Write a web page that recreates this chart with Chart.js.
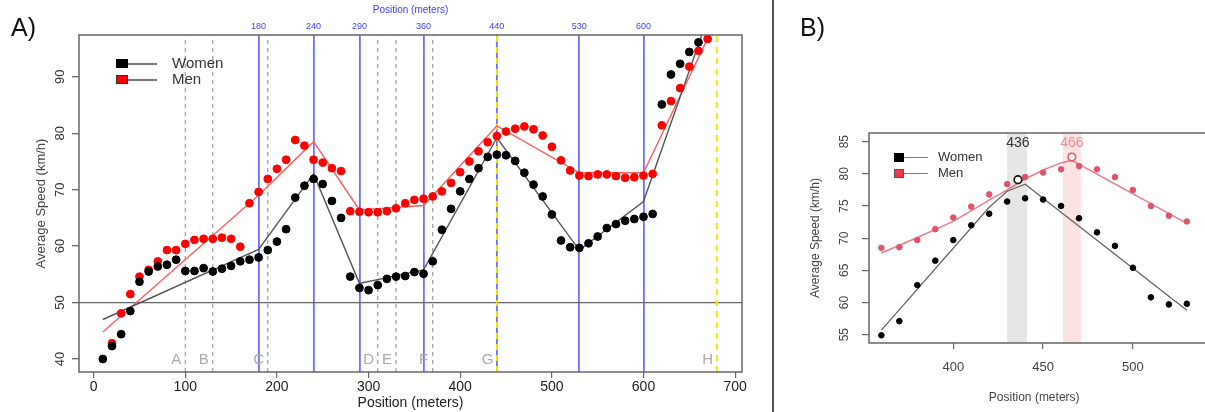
<!DOCTYPE html>
<html>
<head>
<meta charset="utf-8">
<script src="https://cdn.jsdelivr.net/npm/chart.js@4.4.1/dist/chart.umd.min.js"></script>
<style>
  body { margin: 0; background: #fff; width: 1205px; height: 412px; overflow: hidden; position: relative;
         font-family: 'Liberation Sans', Arial, sans-serif; }
  canvas { position: absolute; top: 0; }
  #ca { left: 0; }
  #cb { left: 776px; }
  .abs { position: absolute; }
  .tag { font-size: 25px; line-height: 25px; color: #111; }
  .leg { color: #333; white-space: nowrap; }
</style>
</head>
<body>
<canvas id="ca" width="770" height="412"></canvas>
<canvas id="cb" width="429" height="412"></canvas>
<div class="abs" style="left:772px;top:0;width:2px;height:412px;background:#555"></div>
<div class="abs tag" style="left:11px;top:15px">A)</div>
<div class="abs tag" style="left:800px;top:15px">B)</div>

<!-- legend A -->
<div class="abs" style="left:116px;top:59px;width:12px;height:9px;background:#000"></div>
<div class="abs" style="left:128px;top:63px;width:29px;height:1.5px;background:#777"></div>
<div class="abs leg" style="left:172px;top:55px;font-size:15px;line-height:16px">Women</div>
<div class="abs" style="left:116px;top:75px;width:10px;height:7px;background:#ff0000;border:1px solid #333"></div>
<div class="abs" style="left:128px;top:79px;width:29px;height:1.5px;background:#777"></div>
<div class="abs leg" style="left:172px;top:71px;font-size:15px;line-height:16px">Men</div>

<!-- legend B -->
<div class="abs" style="left:894px;top:153px;width:10px;height:9px;background:#000"></div>
<div class="abs" style="left:904px;top:157px;width:24px;height:1.3px;background:#777"></div>
<div class="abs leg" style="left:938px;top:150px;font-size:13px;line-height:14px">Women</div>
<div class="abs" style="left:894px;top:169px;width:8px;height:7px;background:#f03a4a;border:1px solid #555"></div>
<div class="abs" style="left:904px;top:173px;width:24px;height:1.3px;background:#777"></div>
<div class="abs leg" style="left:938px;top:166px;font-size:13px;line-height:14px">Men</div>

<script>
// ---------- panel A data ----------
const womenAX = [10,20,30,40,50,60,70,80,90,100,110,120,130,140,150,160,170,180,190,200,210,220,230,240,250,260,270,280,290,300,
  310,320,330,340,350,360,370,380,390,400,410,420,430,440,450,460,470,480,490,500,510,520,530,540,550,560,570,580,590,600,
  610,620,630,640,650,660]
const womenAY = [40.0,42.3,44.4,48.5,53.7,55.5,56.4,56.7,57.6,55.6,55.6,56.1,55.5,56.0,56.5,57.3,57.6,58.0,59.3,60.8,63.0,
  68.6,70.7,71.9,71.0,68.0,65.0,54.6,52.6,52.2,53.1,54.2,54.6,54.7,55.4,55.1,57.3,62.9,66.6,69.7,71.9,73.8,75.8,76.2,76.1,
  75.1,73.0,70.9,68.8,65.6,61.0,59.8,59.7,60.5,61.7,63.2,63.9,64.5,64.8,65.2,65.7,85.1,90.4,92.3,94.4,96.1]
const menAX = [20,30,40,50,60,70,80,90,100,110,120,130,140,150,160,170,180,190,200,210,220,230,240,250,260,270,280,290,300,
  310,320,330,340,350,360,370,380,390,400,410,420,430,440,450,460,470,480,490,500,510,520,530,540,550,560,570,580,590,600,
  610,620,630,640,650,660,670]
const menAY = [42.8,48.1,51.5,54.6,55.8,57.3,59.3,59.3,60.4,61.1,61.3,61.3,61.5,61.3,59.9,67.6,69.6,71.9,73.7,75.3,78.8,
  77.8,75.3,74.8,73.8,73.3,66.2,66.1,66.0,66.0,66.2,66.7,67.6,68.2,68.4,68.8,69.7,71.2,73.1,75.0,76.8,78.4,79.5,80.3,80.8,
  81.2,80.7,79.6,77.6,75.2,73.4,72.5,72.4,72.7,72.7,72.4,72.1,72.2,72.5,72.8,81.4,85.7,88.0,91.8,94.6,96.7]
const fitAX = [10,180,240,290,360,440,530,600,680]
const womenFitAY = [47.0,59.4,72.8,53.4,55.8,79.2,59.3,67.9,105.0]
const menFitAY = [44.8,69.0,78.5,66.4,67.2,81.3,73.0,73.0,100.2]
const blueBreaks = [180,240,290,360,440,530,600]
const greyDashed = [100,130,190,310,330,370]
const yellowDashed = [440,680]
const zoneLetters = ['A','B','C','D','E','F','G','H']
const zoneLetterX = [90,120,180,300,320,360,430,670]
const zoneLetterY = 39.9
const xTicksA = [0,100,200,300,400,500,600,700]
const yTicksA = [40,50,60,70,80,90]
const refLineA = 50

// ---------- panel B data ----------
const posB = [360,370,380,390,400,410,420,430,440,450,460,470,480,490,500,510,520,530]
const womenB = [54.9,57.1,62.7,66.5,69.7,72.0,73.8,75.7,76.2,76.0,75.0,73.1,70.9,68.8,65.4,60.8,59.7,59.8]
const menB = [68.5,68.6,69.7,71.4,73.2,74.9,76.8,78.4,79.5,80.2,80.7,81.2,80.7,79.5,77.5,75.0,73.5,72.6]
const womenFitBX = [360,420,430,440,530]
const womenFitBY = [55.7,74.8,77.3,78.4,58.8]
const menFitBX = [360,380,400,420,430,440,450,460,466,530]
const menFitBY = [67.7,70.1,72.6,75.9,77.5,79.2,80.6,81.7,82.1,72.3]
const peakWomen = [436, 79.1]
const peakMen = [466, 82.6]
const bandWomen = [430, 441]
const bandMen = [461, 471]
const xTicksB = [400,450,500]
const yTicksB = [55,60,65,70,75,80,85]

const FONT = "'Liberation Sans', Arial, sans-serif"
Chart.defaults.font.family = FONT

const pts = (xs, ys) => xs.map((x, i) => ({ x: x, y: ys[i] }))
const setTicks = arr => s => { s.ticks = arr.map(v => ({ value: v })) }

// panel A ranges
const xMinA = -16, xMaxA = 707.5, yMinA = 37.7, yMaxA = 97.4
const vline = (v, color, width, dash, order) => ({
   data: [{ x: v, y: yMinA }, { x: v, y: yMaxA }],
   showLine: true, borderColor: color, borderWidth: width, borderDash: dash,
   pointRadius: 0, order: order
})

function rotatedLabels(ctx, scale, x, font, color) {
   ctx.fillStyle = color
   ctx.font = font
   ctx.textAlign = 'center'
   ctx.textBaseline = 'middle'
   scale.ticks.forEach(t => {
      ctx.save()
      ctx.translate(x, scale.getPixelForValue(t.value))
      ctx.rotate(-Math.PI / 2)
      ctx.fillText(String(t.value), 0, 0)
      ctx.restore()
   })
}

const decoA = {
   id: 'decoA',
   afterDraw(chart) {
      const { ctx, chartArea: a, scales: { x, y } } = chart
      ctx.save()
      ctx.strokeStyle = '#666'
      ctx.lineWidth = 1.5
      ctx.strokeRect(a.left, a.top, a.right - a.left, a.bottom - a.top)
      rotatedLabels(ctx, y, a.left - 19, '13px ' + FONT, '#333')
      ctx.fillStyle = '#aaa'
      ctx.font = '15px ' + FONT
      ctx.textAlign = 'center'
      ctx.textBaseline = 'middle'
      zoneLetters.forEach((l, i) => {
         ctx.fillText(l, x.getPixelForValue(zoneLetterX[i]), y.getPixelForValue(zoneLetterY))
      })
      ctx.restore()
   }
}

const datasetsA = [
   { data: pts(womenAX, womenAY), backgroundColor: '#000', borderColor: '#000', pointRadius: 3.9, order: 0 },
   { data: pts(menAX, menAY), backgroundColor: '#ff0000', borderColor: '#ff0000', pointRadius: 3.9, order: 1 },
   { data: pts(fitAX, womenFitAY), showLine: true, borderColor: '#555', borderWidth: 1.4, pointRadius: 0, order: 2 },
   { data: pts(fitAX, menFitAY), showLine: true, borderColor: '#ff5c5c', borderWidth: 1.4, pointRadius: 0, order: 3 },
]
yellowDashed.forEach(v => datasetsA.push(vline(v, '#f2e600', 2, [6, 5], 4)))
greyDashed.forEach(v => datasetsA.push(vline(v, '#9a9a9a', 1.2, [4, 4], 5)))

new Chart(document.getElementById('ca'), {
   type: 'scatter',
   data: { datasets: datasetsA },
   options: {
      responsive: false,
      animation: false,
      layout: { padding: { top: 0, right: 28, left: 0, bottom: 0 } },
      plugins: { legend: { display: false }, tooltip: { enabled: false } },
      scales: {
         x: {
            type: 'linear', position: 'bottom', min: xMinA, max: xMaxA,
            afterBuildTicks: setTicks(xTicksA),
            afterFit: s => { s.height = 40; s.paddingLeft = 0; s.paddingRight = 0 },
            ticks: { color: '#222', font: { size: 14 }, padding: 1, maxRotation: 0 },
            grid: { drawOnChartArea: false, tickLength: 6, tickColor: '#666', lineWidth: 1.2 },
            border: { display: false },
            title: { display: true, text: 'Position (meters)', color: '#222', font: { size: 14 }, padding: { top: 0, bottom: 0 } },
         },
         x2: {
            type: 'linear', position: 'top', min: xMinA, max: xMaxA,
            afterBuildTicks: setTicks(blueBreaks),
            afterFit: s => { s.height = 35; s.paddingLeft = 0; s.paddingRight = 0 },
            ticks: { color: '#3c3cff', font: { size: 9 }, padding: 3, maxRotation: 0 },
            grid: { color: 'rgba(95,95,255,0.9)', lineWidth: 1.8, drawTicks: false },
            border: { display: false },
            title: { display: true, text: 'Position (meters)', color: '#3c3cff', font: { size: 10 }, padding: { top: 4, bottom: 0 } },
         },
         y: {
            min: yMinA, max: yMaxA,
            afterBuildTicks: setTicks(yTicksA),
            afterFit: s => { s.width = 79; s.paddingTop = 0; s.paddingBottom = 0 },
            ticks: { callback: () => '' },
            grid: {
               color: c => (c.tick && c.tick.value === refLineA ? '#666' : 'transparent'),
               tickColor: '#666', tickLength: 7, lineWidth: 1.3,
            },
            border: { display: false },
            title: { display: true, text: 'Average Speed (km/h)', color: '#444', font: { size: 13 }, padding: { top: 34, bottom: 0 } },
         },
      },
   },
   plugins: [decoA],
})

// ---------- panel B ----------
const xMinB = 353.1, xMaxB = 537, yMinB = 53.7, yMaxB = 86.35
const menPink = '#df536b'

const decoB = {
   id: 'decoB',
   beforeDatasetsDraw(chart) {
      const { ctx, chartArea: a, scales: { x } } = chart
      ctx.save()
      ctx.fillStyle = '#e6e6e6'
      ctx.fillRect(x.getPixelForValue(bandWomen[0]), a.top, x.getPixelForValue(bandWomen[1]) - x.getPixelForValue(bandWomen[0]), a.bottom - a.top)
      ctx.fillStyle = '#fde2e2'
      ctx.fillRect(x.getPixelForValue(bandMen[0]), a.top, x.getPixelForValue(bandMen[1]) - x.getPixelForValue(bandMen[0]), a.bottom - a.top)
      ctx.restore()
   },
   afterDraw(chart) {
      const { ctx, chartArea: a, scales: { x, y }, width } = chart
      ctx.save()
      ctx.strokeStyle = '#666'
      ctx.lineWidth = 1.5
      ctx.beginPath()
      ctx.moveTo(width, a.top); ctx.lineTo(a.left, a.top); ctx.lineTo(a.left, a.bottom); ctx.lineTo(width, a.bottom)
      ctx.stroke()
      rotatedLabels(ctx, y, a.left - 24, '12px ' + FONT, '#444')
      ctx.font = '14px ' + FONT
      ctx.textAlign = 'center'
      ctx.textBaseline = 'middle'
      ctx.fillStyle = '#333'
      ctx.fillText(String(peakWomen[0]), x.getPixelForValue(peakWomen[0]), a.top + 10)
      ctx.fillStyle = '#ee8a96'
      ctx.fillText(String(peakMen[0]), x.getPixelForValue(peakMen[0]), a.top + 10)
      ctx.restore()
   }
}

new Chart(document.getElementById('cb'), {
   type: 'scatter',
   data: {
      datasets: [
         { data: [{ x: peakWomen[0], y: peakWomen[1] }], pointRadius: 3.8, borderWidth: 1.6, borderColor: '#111', backgroundColor: '#fff', order: 0 },
         { data: [{ x: peakMen[0], y: peakMen[1] }], pointRadius: 3.8, borderWidth: 1.6, borderColor: menPink, backgroundColor: '#fff', order: 0 },
         { data: pts(posB, womenB), backgroundColor: '#000', borderColor: '#000', pointRadius: 2.8, order: 1 },
         { data: pts(posB, menB), backgroundColor: menPink, borderColor: menPink, pointRadius: 2.8, order: 2 },
         { data: pts(womenFitBX, womenFitBY), showLine: true, borderColor: '#666', borderWidth: 1.3, pointRadius: 0, order: 3 },
         { data: pts(menFitBX, menFitBY), showLine: true, borderColor: 'rgba(223,83,107,0.75)', borderWidth: 1.5, pointRadius: 0, order: 4 },
      ],
   },
   options: {
      responsive: false,
      animation: false,
      layout: { padding: { top: 133, right: 2, left: 0, bottom: 0 } },
      plugins: { legend: { display: false }, tooltip: { enabled: false } },
      scales: {
         x: {
            type: 'linear', position: 'bottom', min: xMinB, max: xMaxB,
            afterBuildTicks: setTicks(xTicksB),
            afterFit: s => { s.height = 69; s.paddingLeft = 0; s.paddingRight = 0 },
            ticks: { color: '#444', font: { size: 13 }, padding: 11, maxRotation: 0 },
            grid: { drawOnChartArea: false, tickLength: 6, tickColor: '#666', lineWidth: 1.2 },
            border: { display: false },
            title: { display: true, text: 'Position (meters)', color: '#444', font: { size: 12 }, padding: { top: 0, bottom: 7 } },
         },
         y: {
            min: yMinB, max: yMaxB,
            afterBuildTicks: setTicks(yTicksB),
            afterFit: s => { s.width = 93; s.paddingTop = 0; s.paddingBottom = 0 },
            ticks: { callback: () => '' },
            grid: { drawOnChartArea: false, tickColor: '#666', tickLength: 7, lineWidth: 1.2 },
            border: { display: false },
            title: { display: true, text: 'Average Speed (km/h)', color: '#444', font: { size: 12 }, padding: { top: 32, bottom: 0 } },
         },
      },
   },
   plugins: [decoB],
})
</script>
</body>
</html>
